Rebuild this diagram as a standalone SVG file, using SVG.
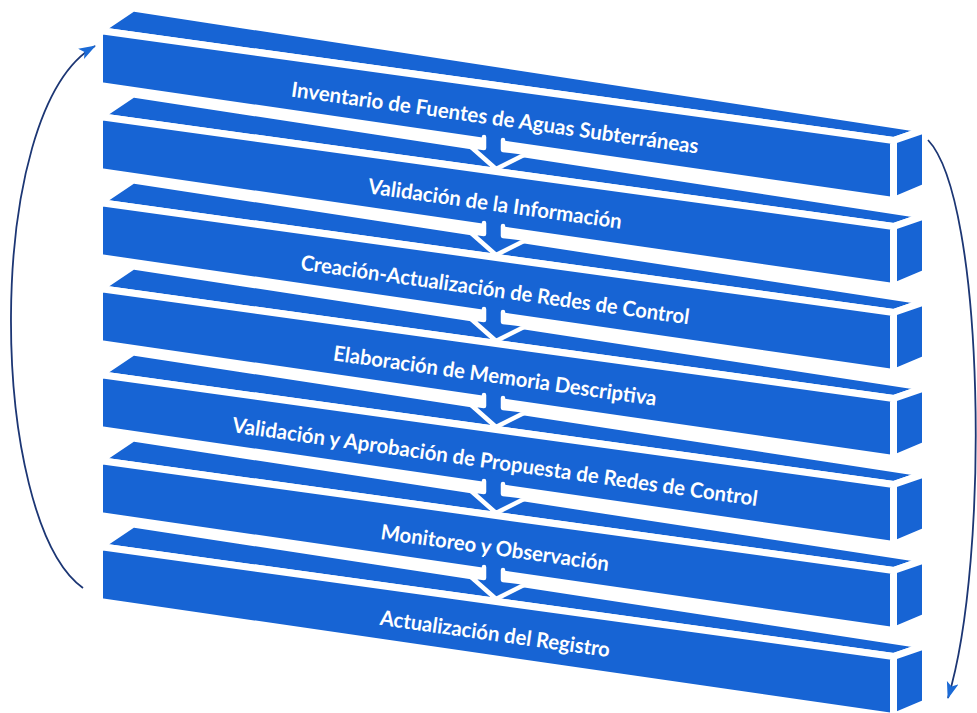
<svg xmlns="http://www.w3.org/2000/svg" width="977" height="713" viewBox="0 0 977 713">
<defs>
<style>
.f{fill:#1764d4;stroke:#fff;stroke-width:7;stroke-linejoin:round}
.t{font-family:Lato,"Open Sans","Liberation Sans",sans-serif;font-weight:700;font-size:21px;fill:#fff;text-anchor:middle}
.af{fill:#1764d4}
.aw{fill:none;stroke:#fff;stroke-width:4.5;stroke-linejoin:round;stroke-linecap:round}
.cv{fill:none;stroke:#1c3674;stroke-width:1.8}
</style>
<marker id="ah" markerUnits="userSpaceOnUse" markerWidth="20" markerHeight="14" refX="16" refY="6" orient="auto">
<path d="M0,0 L17,6 L0,12 L4,6 z" fill="#1b6ad6"/>
</marker>
<g id="bar">
<polygon class="f" points="99.5,-3.5 133,-26 925.5,95.5 893.5,106.5"/>
<polygon class="f" points="893.5,106.5 925.5,95.5 925.5,153 893.5,166.5"/>
<polygon class="f" points="99.5,-3.5 893.5,106.5 893.5,166.5 99.5,51.5"/>
</g>
<g id="arr">
<polygon class="af" points="484,92 503,95 503,116 528,119 496,135 470,112 484,114"/>
<polyline class="aw" points="484,103 484,114 470,112 496,135 528,119 503,116 503,106"/>
</g>
</defs>

<g id="step1"><use href="#bar" transform="translate(0,34)"/>
<text class="t" x="494" y="125" textLength="411" lengthAdjust="spacingAndGlyphs" transform="rotate(8 494 125)">Inventario de Fuentes de Aguas Subterráneas</text></g>
<g id="step2"><use href="#bar" transform="translate(0,120)"/>
<text class="t" x="494" y="211" textLength="256" lengthAdjust="spacingAndGlyphs" transform="rotate(8 494 211)">Validación de la Información</text></g>
<g id="step3"><use href="#bar" transform="translate(0,206)"/>
<text class="t" x="494" y="297" textLength="392" lengthAdjust="spacingAndGlyphs" transform="rotate(8 494 297)">Creación-Actualización de Redes de Control</text></g>
<g id="step4"><use href="#bar" transform="translate(0,292)"/>
<text class="t" x="494" y="383" textLength="326" lengthAdjust="spacingAndGlyphs" transform="rotate(8 494 383)">Elaboración de Memoria Descriptiva</text></g>
<g id="step5"><use href="#bar" transform="translate(0,378)"/>
<text class="t" x="494" y="469" textLength="530" lengthAdjust="spacingAndGlyphs" transform="rotate(8 494 469)">Validación y Aprobación de Propuesta de Redes de Control</text></g>
<g id="step6"><use href="#bar" transform="translate(0,464)"/>
<text class="t" x="494" y="555" textLength="230" lengthAdjust="spacingAndGlyphs" transform="rotate(8 494 555)">Monitoreo y Observación</text></g>
<g id="step7"><use href="#bar" transform="translate(0,550)"/>
<text class="t" x="494" y="641" textLength="232" lengthAdjust="spacingAndGlyphs" transform="rotate(8 494 641)">Actualización del Registro</text></g>

<g id="connectors">
<use href="#arr" transform="translate(0,34)"/>
<use href="#arr" transform="translate(0,120)"/>
<use href="#arr" transform="translate(0,206)"/>
<use href="#arr" transform="translate(0,292)"/>
<use href="#arr" transform="translate(0,378)"/>
<use href="#arr" transform="translate(0,464)"/>
<path class="cv" d="M83,588 C-12,520 -18,110 95,46" marker-end="url(#ah)"/>
<path class="cv" d="M928,140 C985,200 990,560 948,698" marker-end="url(#ah)"/>
</g>
</svg>
